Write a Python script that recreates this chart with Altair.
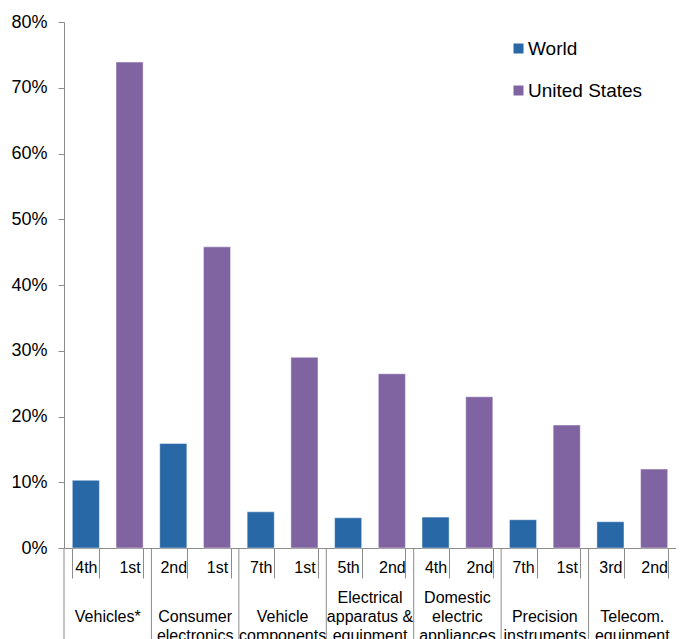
import altair as alt
import pandas as pd

# ---- data ----
categories = ["Vehicles*", "Consumer electronics", "Vehicle components",
              "Electrical apparatus & equipment", "Domestic electric appliances",
              "Precision instruments", "Telecom. equipment"]
category_labels = ["|Vehicles*", "|Consumer|electronics", "|Vehicle|components",
                   "Electrical|apparatus &|equipment", "Domestic|electric|appliances",
                   "|Precision|instruments", "|Telecom.|equipment"]
series_names = ["World", "United States"]
world_share = [10.3, 15.9, 5.5, 4.6, 4.7, 4.3, 4.0]
us_share = [73.9, 45.8, 29.0, 26.5, 23.0, 18.7, 12.0]
world_rank = ["4th", "2nd", "7th", "5th", "4th", "7th", "3rd"]
us_rank = ["1st", "1st", "1st", "2nd", "2nd", "1st", "2nd"]
y_ticks = [0, 10, 20, 30, 40, 50, 60, 70, 80]
colors = ["#2868A6", "#8064A2"]

rows = []
for i, cat in enumerate(categories):
    for j, (name, vals, ranks) in enumerate(
            [("World", world_share, world_rank), ("United States", us_share, us_rank)]):
        rows.append({
            "category": categories[i],
            "series": name,
            "share": vals[i],
            "slot": f"{i}{j}:{ranks[i]}",
        })
df = pd.DataFrame(rows)
slot_order = list(df["slot"])
cat_df = pd.DataFrame({"category": categories, "label": category_labels})

FONT = "Liberation Sans, Arial, sans-serif"
GRAY = "#8c8c8c"
W, H = 612, 526

bars = alt.Chart(df).mark_bar(stroke="white", strokeOpacity=0.45, strokeWidth=1).encode(
    x=alt.X("slot:N", sort=slot_order,
            scale=alt.Scale(paddingInner=0.38, paddingOuter=0.19),
            axis=alt.Axis(title=None, labelExpr="split(datum.value, ':')[1]",
                          labelAngle=0, tickBand="extent", tickSize=30,
                          labelBaseline="middle", labelPadding=-11,
                          labelFontSize=16, labelColor="#000000",
                          domainColor=GRAY, tickColor=GRAY)),
    y=alt.Y("share:Q", scale=alt.Scale(domain=[0, 80], nice=False),
            axis=alt.Axis(title=None, values=y_ticks, labelExpr="datum.value + '%'",
                          grid=False, tickSize=6, labelPadding=11, labelFontSize=18,
                          labelColor="#000000", domainColor=GRAY, tickColor=GRAY)),
    color=alt.Color("series:N", sort=series_names,
                    scale=alt.Scale(domain=series_names, range=colors),
                    legend=alt.Legend(title=None, orient="none", legendX=445, legendY=17,
                                      symbolType="square", symbolSize=100,
                                      symbolStrokeWidth=0, labelFontSize=19,
                                      labelOffset=0, rowPadding=22, padding=0,
                                      labelColor="#000000")),
)

group_x = alt.X("category:N", sort=categories, bandPosition=0,
                scale=alt.Scale(paddingInner=0, paddingOuter=0), axis=None)

separators = alt.Chart(cat_df).mark_rule(color=GRAY, strokeWidth=1).encode(
    x=group_x,
    y=alt.value(H),
    y2=alt.value(H + 100),
)

group_labels = alt.Chart(cat_df).mark_text(
    lineBreak="|", baseline="top", align="center", fontSize=16, lineHeight=19,
    color="#000000",
).encode(
    x=alt.X("category:N", sort=categories,
            scale=alt.Scale(paddingInner=0, paddingOuter=0), axis=None),
    y=alt.value(H + 42),
    text="label:N",
)

chart = alt.layer(bars, separators, group_labels).resolve_scale(x="independent").properties(
    width=W, height=H,
    padding={"left": 2, "top": 5, "right": 0, "bottom": 0},
).configure(font=FONT).configure_view(stroke=None)

chart.save("out.html", embed_options={"renderer": "svg", "actions": False})
